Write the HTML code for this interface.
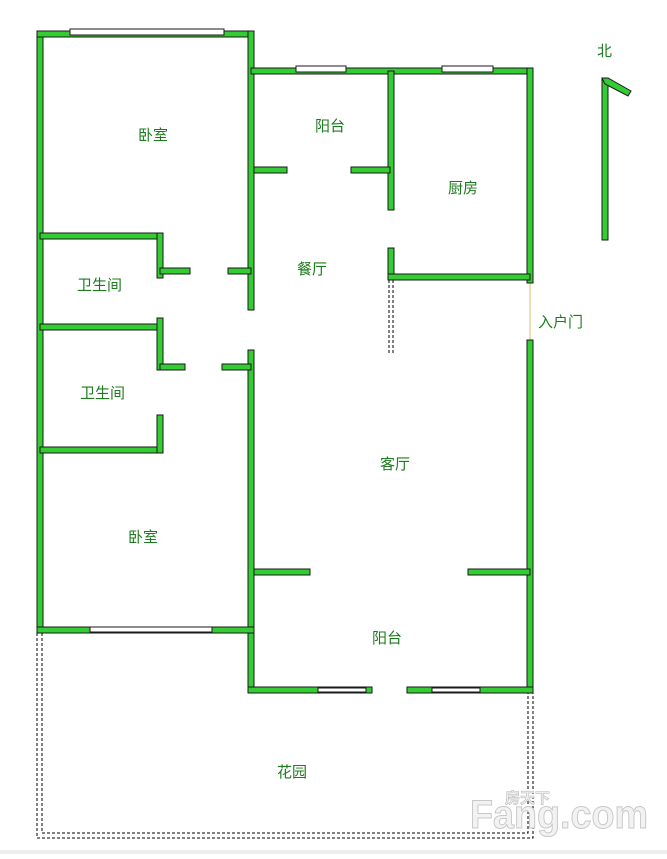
<!DOCTYPE html><html><head><meta charset="utf-8"><style>body{margin:0;background:#fff}svg text{font-family:"Liberation Sans","Noto Sans CJK SC",sans-serif;font-size:15px;fill:#1e7a1e}</style></head><body>
<svg width="667" height="854" viewBox="0 0 667 854" xmlns="http://www.w3.org/2000/svg">
<rect width="667" height="854" fill="#fff"/>
<g fill="none" stroke="#000" stroke-width="1" stroke-dasharray="3,2">
<path d="M37 633 V838 H533 V692"/><path d="M42 633 V833 H528 V692"/>
<path d="M389 280 V355 M393 280 V355"/>
</g>
<line x1="530" y1="283" x2="530" y2="340" stroke="#d8c070" stroke-width="1"/>
<g fill="#33cc33" stroke="#1a1a1a" stroke-width="1">
<rect x="37" y="31" width="6" height="602"/>
<rect x="37" y="31" width="217" height="6"/>
<rect x="248" y="31" width="6" height="279"/>
<rect x="248" y="350" width="6" height="343"/>
<rect x="251" y="68" width="282" height="6"/>
<rect x="527" y="68" width="6" height="215"/>
<rect x="527" y="340" width="6" height="353"/>
<rect x="388" y="71" width="6" height="139"/>
<rect x="388" y="248" width="6" height="32"/>
<rect x="388" y="274" width="142" height="6"/>
<rect x="254" y="167" width="33" height="6"/>
<rect x="351" y="167" width="39" height="6"/>
<rect x="40" y="233" width="123" height="6"/>
<rect x="157" y="233" width="6" height="45"/>
<rect x="160" y="268" width="30" height="6"/>
<rect x="228" y="268" width="23" height="6"/>
<rect x="40" y="324" width="123" height="6"/>
<rect x="157" y="318" width="6" height="52"/>
<rect x="160" y="364" width="25" height="6"/>
<rect x="222" y="364" width="29" height="6"/>
<rect x="40" y="447" width="123" height="6"/>
<rect x="157" y="415" width="6" height="38"/>
<rect x="37" y="627" width="217" height="6"/>
<rect x="254" y="569" width="56" height="6"/>
<rect x="468" y="569" width="62" height="6"/>
<rect x="248" y="687" width="124" height="6"/>
<rect x="407" y="687" width="126" height="6"/>
<rect x="602" y="78" width="6" height="162"/>
<polygon points="602,78 608,78 631,91 628,96 605,84"/>
</g>
<g fill="#fff" stroke="#1a1a1a" stroke-width="1">
<rect x="70" y="29" width="154" height="6"/>
<rect x="296" y="66" width="50" height="6"/>
<rect x="442" y="66" width="51" height="6"/>
<rect x="90" y="627" width="122" height="5"/>
<rect x="318" y="688" width="48" height="4"/>
<rect x="432" y="688" width="48" height="4"/>
</g>
<text x="138" y="140">卧室</text>
<text x="315" y="131">阳台</text>
<text x="448" y="193">厨房</text>
<text x="297" y="274">餐厅</text>
<text x="77" y="290">卫生间</text>
<text x="80" y="398">卫生间</text>
<text x="538" y="327">入户门</text>
<text x="380" y="469">客厅</text>
<text x="128" y="542">卧室</text>
<text x="372" y="643">阳台</text>
<text x="277" y="777">花园</text>
<text x="597" y="56">北</text>
<text x="470" y="828" textLength="178" lengthAdjust="spacingAndGlyphs" style="font-size:40px;font-weight:bold;fill:#f2f2f2;stroke:#c8c8c8;stroke-width:1">Fang.com</text>
<text x="505" y="803" style="font-size:15px;font-weight:bold;fill:#eee;stroke:#bbb;stroke-width:.6">房天下</text>
<rect x="0" y="850" width="667" height="4" fill="#eee"/>
</svg></body></html>
